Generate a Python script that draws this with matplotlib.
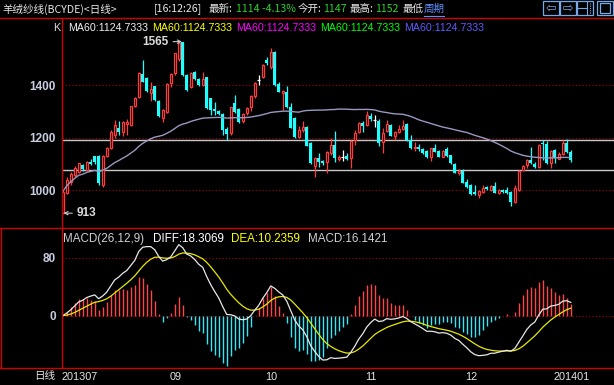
import numpy as np
import pandas as pd
import matplotlib
matplotlib.use("Agg")
import matplotlib.pyplot as plt
from matplotlib.patches import Rectangle
from matplotlib.lines import Line2D

# ------------------------------------------------------------------
# daily K-line data (2013-07 .. 2014-01)
# ------------------------------------------------------------------
opens = [913, 990, 1030, 1060, 1071, 1096, 1077, 1108, 1130, 1130,
         1020, 1132, 1162, 1210, 1238, 1223, 1251, 1248, 1320, 1356,
         1441, 1426, 1369, 1396, 1340, 1274, 1299, 1409, 1447, 1498,
         1562, 1438, 1391, 1451, 1422, 1400, 1429, 1350, 1310, 1300,
         1290, 1232, 1217, 1332, 1308, 1265, 1295, 1318, 1358, 1420,
         1432, 1495, 1467, 1524, 1404, 1370, 1375, 1315, 1274, 1204,
         1229, 1239, 1179, 1092, 1122, 1111, 1109, 1141, 1172, 1118,
         1125, 1130, 1122, 1191, 1223, 1257, 1248, 1283, 1267, 1264,
         1182, 1226, 1248, 1208, 1223, 1232, 1252, 1191, 1162, 1166,
         1157, 1150, 1128, 1160, 1148, 1128, 1157, 1133, 1100, 1065,
         1075, 1032, 1020, 994, 982, 995, 1014, 1001, 1016, 991,
         1001, 1001, 995, 957, 1003, 1077, 1096, 1115, 1101, 1087,
         1181, 1175, 1103, 1153, 1119, 1137, 1181, 1147]
highs = [1000, 1050, 1068, 1092, 1105, 1100, 1112, 1120, 1132, 1133,
         1135, 1165, 1230, 1267, 1262, 1262, 1270, 1322, 1355, 1450,
         1495, 1430, 1410, 1398, 1345, 1310, 1406, 1445, 1522, 1562,
         1565, 1442, 1450, 1455, 1425, 1450, 1432, 1352, 1335, 1305,
         1295, 1240, 1318, 1362, 1312, 1295, 1318, 1362, 1412, 1440,
         1480, 1505, 1540, 1530, 1410, 1382, 1395, 1330, 1280, 1245,
         1265, 1245, 1182, 1128, 1141, 1115, 1150, 1200, 1226, 1135,
         1155, 1140, 1190, 1228, 1260, 1265, 1302, 1295, 1286, 1270,
         1235, 1267, 1252, 1226, 1250, 1267, 1256, 1210, 1185, 1176,
         1162, 1155, 1162, 1176, 1152, 1155, 1163, 1136, 1103, 1080,
         1080, 1042, 1024, 1020, 1000, 1020, 1018, 1022, 1033, 1004,
         1005, 1012, 998, 1020, 1076, 1095, 1118, 1166, 1106, 1175,
         1192, 1186, 1155, 1158, 1145, 1192, 1195, 1152]
lows = [913, 985, 1022, 1050, 1065, 1075, 1072, 1097, 1100, 1020,
        1012, 1128, 1158, 1200, 1210, 1205, 1210, 1245, 1315, 1350,
        1410, 1375, 1340, 1340, 1280, 1258, 1295, 1394, 1440, 1490,
        1436, 1377, 1388, 1420, 1398, 1396, 1310, 1286, 1288, 1285,
        1210, 1190, 1212, 1295, 1255, 1255, 1285, 1300, 1352, 1400,
        1428, 1478, 1460, 1398, 1372, 1305, 1312, 1236, 1200, 1200,
        1220, 1168, 1100, 1052, 1090, 1098, 1065, 1136, 1106, 1110,
        1113, 1115, 1086, 1172, 1218, 1220, 1244, 1265, 1242, 1168,
        1141, 1220, 1205, 1191, 1218, 1228, 1188, 1158, 1150, 1150,
        1138, 1122, 1113, 1145, 1125, 1126, 1128, 1100, 1064, 1060,
        1027, 1010, 983, 982, 972, 990, 1003, 996, 988, 986,
        990, 987, 942, 950, 998, 1074, 1083, 1099, 1083, 1083,
        1115, 1100, 1083, 1105, 1118, 1134, 1142, 1108]
closes = [995, 1039, 1062, 1086, 1103, 1082, 1109, 1100, 1106, 1027,
          1130, 1162, 1223, 1248, 1223, 1258, 1261, 1320, 1350, 1447,
          1413, 1378, 1384, 1343, 1282, 1305, 1404, 1442, 1520, 1559,
          1438, 1381, 1447, 1422, 1400, 1422, 1312, 1305, 1303, 1290,
          1229, 1215, 1315, 1299, 1261, 1290, 1312, 1358, 1409, 1420,
          1476, 1482, 1527, 1400, 1375, 1378, 1315, 1238, 1204, 1229,
          1242, 1170, 1103, 1122, 1106, 1103, 1147, 1172, 1122, 1128,
          1125, 1118, 1187, 1219, 1255, 1246, 1286, 1270, 1267, 1179,
          1219, 1251, 1208, 1223, 1233, 1245, 1191, 1162, 1166, 1156,
          1141, 1125, 1160, 1147, 1128, 1150, 1130, 1103, 1067, 1073,
          1029, 1014, 986, 986, 996, 1009, 1006, 1018, 991, 1001,
          995, 991, 957, 1008, 1073, 1092, 1115, 1103, 1090, 1172,
          1175, 1105, 1150, 1124, 1138, 1179, 1147, 1114]

month_idx = [0, 27, 51, 76, 101, 123]
month_labels = ["201307", "09", "10", "11", "12", "201401"]
price_ticks = [1000, 1200, 1400]
macd_ticks = [0, 80]
level_lines = [1190, 1076]   # the two white horizontal lines

ma_labels = ["MA60:1124.7333"] * 5
ma_colors = ["#f0f0f0", "#ffff00", "#ff00ff", "#00ff00", "#5c5cff"]

# indicators computed from the closes, as the terminal does
c = pd.Series(closes, dtype=float)
ma60 = c.rolling(60, min_periods=1).mean()
diff = c.ewm(span=12, adjust=False).mean() - c.ewm(span=26, adjust=False).mean()
dea = diff.ewm(span=9, adjust=False).mean()
macd = 2 * (diff - dea)

# ------------------------------------------------------------------
W, H = 614, 385
RED = "#ff3c3c"
CYAN = "#20ffff"
FRAME = "#d00000"
GRID = "#a80000"
GREEN = "#2ed02e"
CJK = ["Noto Sans CJK SC", "DejaVu Sans"]
NUM = ["Liberation Sans", "DejaVu Sans"]


def fx(x):
    return x / W


def fy(y):
    return 1 - y / H


fig = plt.figure(figsize=(W / 100, H / 100), dpi=100, facecolor="black")

ax1 = fig.add_axes([fx(61.5), fy(228), 1 - fx(61.5), (228 - 18) / H])
ax2 = fig.add_axes([fx(61.5), fy(368), 1 - fx(61.5), (368 - 228) / H])
for ax in (ax1, ax2):
    ax.set_facecolor("black")
    for s in ax.spines.values():
        s.set_visible(False)
    ax.set_xlim(-0.3, 137.8)

ax1.set_ylim(856.7, 1654.7)
ax2.set_ylim(-72.1, 120.7)

# ---------------- K-line panel ----------------
idx = np.arange(len(closes))
o = np.array(opens, float)
h = np.array(highs, float)
l = np.array(lows, float)
cl = np.array(closes, float)

for y in price_ticks:
    ax1.axhline(y, color=GRID, lw=0.8, ls=(0, (1, 2)), zorder=0)
for y in level_lines:
    ax1.axhline(y, color="#c8c8c8", lw=1.0, zorder=1)

up = cl > o
dn = cl < o
fl = cl == o

# rising: hollow red
ax1.vlines(idx[up], l[up], o[up], color=RED, lw=0.9, zorder=2)
ax1.vlines(idx[up], cl[up], h[up], color=RED, lw=0.9, zorder=2)
ax1.bar(idx[up], cl[up] - o[up], bottom=o[up], width=0.5,
        facecolor="black", edgecolor=RED, linewidth=0.9, zorder=3)
# falling: filled cyan
ax1.vlines(idx[dn], l[dn], h[dn], color=CYAN, lw=0.9, zorder=2)
ax1.bar(idx[dn], o[dn] - cl[dn], bottom=cl[dn], width=0.72,
        color=CYAN, linewidth=0, zorder=3)
# flat: white cross
ax1.vlines(idx[fl], l[fl], h[fl], color="white", lw=0.9, zorder=2)
ax1.hlines(cl[fl], idx[fl] - 0.36, idx[fl] + 0.36, color="white", lw=0.9, zorder=3)

ax1.plot(idx, ma60, color="#9898c0", lw=1.0, zorder=4)

ax1.set_yticks(price_ticks)
ax1.set_yticklabels([str(t) for t in price_ticks], fontweight="bold", family=NUM)
ax1.tick_params(axis="y", length=0, pad=4, labelcolor="#c8cce0", labelsize=8.5)
ax1.set_xticks([])

imax = int(np.argmax(h))
imin = int(np.argmin(l))
ax1.annotate(str(int(h[imax])), xy=(imax - 0.2, h[imax]), xytext=(-13, 0),
             textcoords="offset pixels", ha="right", va="center",
             color="#dcdcdc", fontsize=8.5, fontweight="bold", family=NUM,
             arrowprops=dict(arrowstyle="->", color="#c8c8c8", lw=0.8,
                             shrinkA=1, shrinkB=0, mutation_scale=6))
ax1.annotate(str(int(l[imin])), xy=(imin + 0.2, l[imin]), xytext=(13, 0),
             textcoords="offset pixels", ha="left", va="center",
             color="#dcdcdc", fontsize=8.5, fontweight="bold", family=NUM,
             arrowprops=dict(arrowstyle="->", color="#c8c8c8", lw=0.8,
                             shrinkA=1, shrinkB=0, mutation_scale=6))

# ---------------- MACD panel ----------------
for y in macd_ticks:
    ax2.axhline(y, color=GRID, lw=0.8, ls=(0, (1, 2)), zorder=0)
bar_colors = np.where(macd >= 0, "#ff4646", "#30e8f8")
ax2.vlines(idx, 0, macd, colors=bar_colors, lw=1.0, zorder=1)
ax2.plot(idx, diff, color="#e8e8e8", lw=0.9, zorder=3)
ax2.plot(idx, dea, color="#e8e800", lw=0.9, zorder=2)

ax2.set_yticks(macd_ticks)
ax2.set_yticklabels([str(t) for t in macd_ticks], fontweight="bold", family=NUM)
ax2.tick_params(axis="y", length=0, pad=4, labelcolor="#c8cce0", labelsize=8.5)
ax2.set_xticks(np.array(month_idx) - 0.3)
ax2.set_xticklabels(month_labels, ha="left", family=NUM)
ax2.tick_params(axis="x", length=0, pad=3, labelcolor="#e6e6e6", labelsize=7.8)

# ---------------- frame ----------------
frame = [((0, 18), (W, 18)), ((0, 228), (W, 228)), ((0, 368), (W, 368)),
         ((61.5, 18), (61.5, 368)), ((0.6, 228), (0.6, 368))]
for (x0, y0), (x1, y1) in frame:
    fig.add_artist(Line2D([fx(x0), fx(x1)], [fy(y0), fy(y1)],
                          transform=fig.transFigure, color=FRAME, lw=1.0))

# ---------------- title bar ----------------
title_parts = [(2, "羊绒纱线(BCYDE)<日线>", "#e6e6e6"),
               (154, "[16:12:26]", "#e6e6e6"),
               (209, "最新:", "#e6e6e6"), (236, "1114 -4.13%", GREEN),
               (298, "今开:", "#e6e6e6"), (323, "1147", GREEN),
               (350, "最高:", "#e6e6e6"), (375, "1152", GREEN),
               (403, "最低", "#e6e6e6")]
for x, s, col in title_parts:
    fig.text(fx(x), fy(9), s, color=col, fontsize=7.6, family=CJK,
             ha="left", va="center")
fig.text(fx(424), fy(9), "周期", color="#5f8fff", fontsize=7.6, family=CJK,
         ha="left", va="center",
         bbox=dict(facecolor="black", edgecolor="none", pad=0.3))
fig.add_artist(Line2D([fx(424), fx(444)], [fy(15.5), fy(15.5)],
                      transform=fig.transFigure, color="#5f8fff", lw=0.8))

# toolbar icons
ICON = "#78a8e8"
boxes = [(543, 559), (560, 576), (577, 593), (597, 613)]
for x0, x1 in boxes:
    fig.add_artist(Rectangle((fx(x0), fy(15)), fx(x1 - x0), 14 / H,
                             transform=fig.transFigure, fill=False,
                             edgecolor=ICON, lw=0.9))
fig.text(fx(551), fy(8), "⇦", color=ICON, fontsize=9, ha="center", va="center",
         family="DejaVu Sans")
fig.text(fx(568), fy(8), "⇨", color=ICON, fontsize=9, ha="center", va="center",
         family="DejaVu Sans")
fig.add_artist(Line2D([fx(587), fx(587)], [fy(2), fy(14)],
                      transform=fig.transFigure, color=ICON, lw=0.8))
fig.add_artist(Line2D([fx(578), fx(587)], [fy(8), fy(8)],
                      transform=fig.transFigure, color=ICON, lw=0.8))
fig.add_artist(Line2D([fx(590), fx(590)], [fy(3), fy(13)],
                      transform=fig.transFigure, color=ICON, lw=0.8, ls=(0, (1, 1))))
fig.add_artist(Rectangle((fx(600), fy(12.5)), fx(10), 9 / H,
                         transform=fig.transFigure, fill=False,
                         edgecolor=ICON, lw=0.9))

# ---------------- legends ----------------
fig.text(fx(53), fy(28), "K", color="#d8d8d8", fontsize=7.8, family=NUM,
         ha="left", va="center")
for k, (s, col) in enumerate(zip(ma_labels, ma_colors)):
    fig.text(fx(68 + 84 * k), fy(28), s, color=col, fontsize=7.7, family=NUM,
             ha="left", va="center")

macd_parts = [(63, "MACD(26,12,9)", "#d0d0d0"), (153, "DIFF:18.3069", "#ffffff"),
              (231.5, "DEA:10.2359", "#ffff00"), (308, "MACD:16.1421", "#d0d0d0")]
for x, s, col in macd_parts:
    fig.text(fx(x), fy(238.5), s, color=col, fontsize=8.4, family=NUM,
             ha="left", va="center")

fig.text(fx(55), fy(376.5), "日线", color="#e6e6e6", fontsize=7.6, family=CJK,
         ha="right", va="center")

fig.savefig("out.png", dpi=100, facecolor="black")
